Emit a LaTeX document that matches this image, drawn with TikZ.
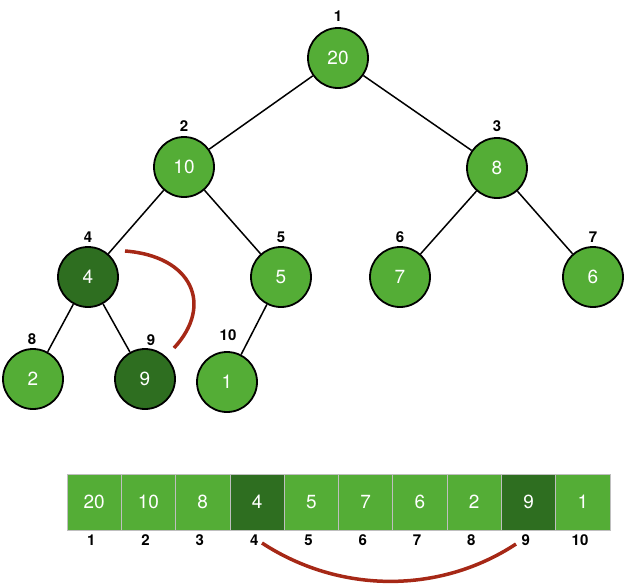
\documentclass[tikz,border=0pt]{standalone}
\usepackage{fontspec}
\setmainfont{TeX Gyre Heros}
\usepackage{xcolor}
\usepackage{tikz}
\usetikzlibrary{positioning}
\definecolor{heapgreen}{RGB}{84,173,54}
\definecolor{heapdark}{RGB}{46,110,32}
\definecolor{swapred}{RGB}{166,40,22}

\begin{document}
\begin{tikzpicture}[x=1pt, y=-1pt,
        heap/.style={circle, draw=black, line width=1.8pt, fill=heapgreen, minimum size=60pt, inner sep=0pt, text=white, font=\fontsize{19}{21}\selectfont},
        darkheap/.style={heap, fill=heapdark},
        idx/.style={inner sep=0pt, font=\bfseries\fontsize{15}{17}\selectfont},
        cell/.style={rectangle, draw=black!25, line width=0.8pt, fill=heapgreen, minimum width=54.3pt, minimum height=56pt, inner sep=0pt, outer sep=0pt, text=white, font=\fontsize{19}{21}\selectfont},
        darkcell/.style={cell, fill=heapdark},
        link/.style={line width=1.5pt},
        swap/.style={draw=swapred, line width=3.5pt}
    ]
        \useasboundingbox (0,0) rectangle (626,584);

        \node[heap] (n1) at (338,58) {20};
        \node[heap] (n2) at (184,167) {10};
        \node[heap] (n3) at (497,168) {8};
        \node[darkheap] (n4) at (88,277) {4};
        \node[heap] (n5) at (281,277) {5};
        \node[heap] (n6) at (400,277) {7};
        \node[heap] (n7) at (593,277) {6};
        \node[heap] (n8) at (33,379) {2};
        \node[darkheap] (n9) at (145,379) {9};
        \node[heap] (n10) at (227,382) {1};

        \foreach \i/\x/\y in {1/338/16, 2/184/126, 3/497/126, 4/88/237, 5/281/237, 6/400/237, 7/593/237, 8/32/339, 9/151/340, 10/228/335}
            \node[idx] (t\i) at (\x,\y) {\i};

        \draw[link] (n1) -- (n2);
        \draw[link] (n1) -- (n3);
        \draw[link] (n2) -- (n4);
        \draw[link] (n2) -- (n5);
        \draw[link] (n3) -- (n6);
        \draw[link] (n3) -- (n7);
        \draw[link] (n4) -- (n8);
        \draw[link] (n4) -- (n9);
        \draw[link] (n5) -- (n10);

        \foreach \v/\s [count=\k] in {20/cell, 10/cell, 8/cell, 4/darkcell, 5/cell, 7/cell, 6/cell, 2/cell, 9/darkcell, 1/cell} {
            \node[\s] (c\k) at (39.85+54.3*\k, 502) {\v};
            \node[idx] (a\k) at (37+54.3*\k, 540) {\k};
        }

        \coordinate (s4) at (125,251);
        \coordinate (s9) at (174,348);
        \draw[swap] (s4) .. controls (192,256) and (214,305) .. (s9);

        \coordinate (r4) at (262,543);
        \coordinate (r9) at (516,544);
        \draw[swap] (r4) .. controls (340,594) and (440,594) .. (r9);
    \end{tikzpicture}
\end{document}
